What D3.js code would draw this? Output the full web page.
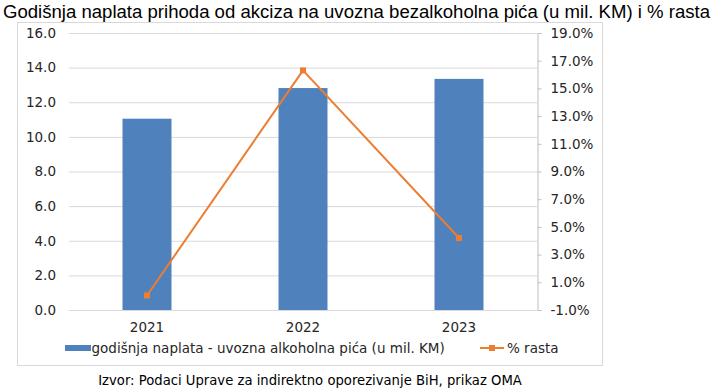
<!DOCTYPE html>
<html><head><meta charset="utf-8">
<script src="https://cdn.jsdelivr.net/npm/d3@7"></script>
<style>body{margin:0;background:#fff}svg{display:block}</style>
</head><body>
<svg id="c" width="715" height="392"></svg>
<script>
const title = "Godišnja naplata prihoda od akciza na uvozna bezalkoholna pića (u mil. KM) i % rasta";
const source = "Izvor: Podaci Uprave za indirektno oporezivanje BiH, prikaz OMA";
const years = ["2021", "2022", "2023"];
const naplata = [11.05, 12.82, 13.35];
const rast = [0.05, 16.3, 4.2];
const leftTicks = [0, 2, 4, 6, 8, 10, 12, 14, 16];
const rightTicks = [-1, 1, 3, 5, 7, 9, 11, 13, 15, 17, 19];
const legendBar = "godišnja naplata - uvozna alkoholna pića (u mil. KM)";
const legendLine = "% rasta";

(function () {
const svg = d3.select("#c");
const fontAxis = "'DejaVu Sans', Verdana, sans-serif";
const pL = 69, pR = 537, pT = 33, pB = 310;

svg.append("rect").attr("width", 715).attr("height", 392).attr("fill", "#fff");
svg.append("text").attr("x", 3).attr("y", 17.5).attr("font-family", "'Liberation Sans', Arial, sans-serif")
  .attr("font-size", 18.3).attr("textLength", 707).attr("lengthAdjust", "spacingAndGlyphs")
  .attr("fill", "#000").text(title);
svg.append("rect").attr("x", 17.5).attr("y", 22.5).attr("width", 585).attr("height", 343)
  .attr("fill", "none").attr("stroke", "#d9d9d9");

const x = d3.scaleBand().domain(years).range([pL, pR]).paddingInner(0.686).paddingOuter(0.343);
const yL = d3.scaleLinear().domain([0, 16]).range([pB, pT]);
const yR = d3.scaleLinear().domain([-1, 19]).range([pB, pT]);

svg.append("g").selectAll("line").data(leftTicks).join("line")
  .attr("x1", pL).attr("x2", pR).attr("y1", d => yL(d) + 0.5).attr("y2", d => yL(d) + 0.5)
  .attr("stroke", "#d9d9d9").attr("stroke-width", 1);

const gL = svg.append("g").attr("transform", `translate(${pL},0)`)
  .call(d3.axisLeft(yL).tickValues(leftTicks).tickFormat(d3.format(".1f")).tickSize(0).tickPadding(13));
gL.select(".domain").remove();
gL.selectAll("text").attr("font-family", fontAxis).attr("font-size", 13.5).attr("fill", "#262626");

const gR = svg.append("g").attr("transform", `translate(${pR + 0.5},0)`)
  .call(d3.axisRight(yR).tickValues(rightTicks)
    .tickFormat(d => d3.format(".1f")(d).replace("\u2212", "-") + "%").tickSize(4).tickPadding(9));
gR.select(".domain").attr("stroke", "#bfbfbf");
gR.selectAll(".tick line").attr("stroke", "#bfbfbf");
gR.selectAll("text").attr("font-family", fontAxis).attr("font-size", 13.5).attr("fill", "#262626");

svg.append("g").selectAll("rect").data(years).join("rect")
  .attr("x", d => x(d)).attr("width", x.bandwidth())
  .attr("y", (d, i) => yL(naplata[i])).attr("height", (d, i) => yL(0) - yL(naplata[i]))
  .attr("fill", "#4f81bd");

svg.append("g").selectAll("text").data(years).join("text")
  .attr("x", d => x(d) + x.bandwidth() / 2).attr("y", 331.5).attr("text-anchor", "middle")
  .attr("font-family", fontAxis).attr("font-size", 13.5).attr("fill", "#262626").text(d => d);

const cx = d => x(d) + x.bandwidth() / 2;
const line = d3.line().x(d => cx(d)).y((d, i) => yR(rast[i]));
svg.append("path").datum(years).attr("d", line).attr("fill", "none")
  .attr("stroke", "#ed7d31").attr("stroke-width", 2).attr("stroke-linejoin", "round");
svg.append("g").selectAll("rect").data(years).join("rect")
  .attr("x", d => cx(d) - 3).attr("y", (d, i) => yR(rast[i]) - 3).attr("width", 6).attr("height", 6)
  .attr("fill", "#ed7d31");

svg.append("rect").attr("x", 65).attr("y", 345).attr("width", 26).attr("height", 6).attr("fill", "#4f81bd");
svg.append("text").attr("x", 91.5).attr("y", 352.5).attr("font-family", fontAxis).attr("font-size", 13.5)
  .attr("fill", "#262626").text(legendBar);
svg.append("line").attr("x1", 480).attr("x2", 504).attr("y1", 348).attr("y2", 348)
  .attr("stroke", "#ed7d31").attr("stroke-width", 2);
svg.append("rect").attr("x", 489).attr("y", 345).attr("width", 6).attr("height", 6).attr("fill", "#ed7d31");
svg.append("text").attr("x", 507).attr("y", 352.5).attr("font-family", fontAxis).attr("font-size", 13.5)
  .attr("fill", "#262626").text(legendLine);

svg.append("text").attr("x", 310).attr("y", 385).attr("text-anchor", "middle")
  .attr("font-family", fontAxis).attr("font-size", 13.2).attr("fill", "#000").text(source);
})();
</script>
</body></html>
